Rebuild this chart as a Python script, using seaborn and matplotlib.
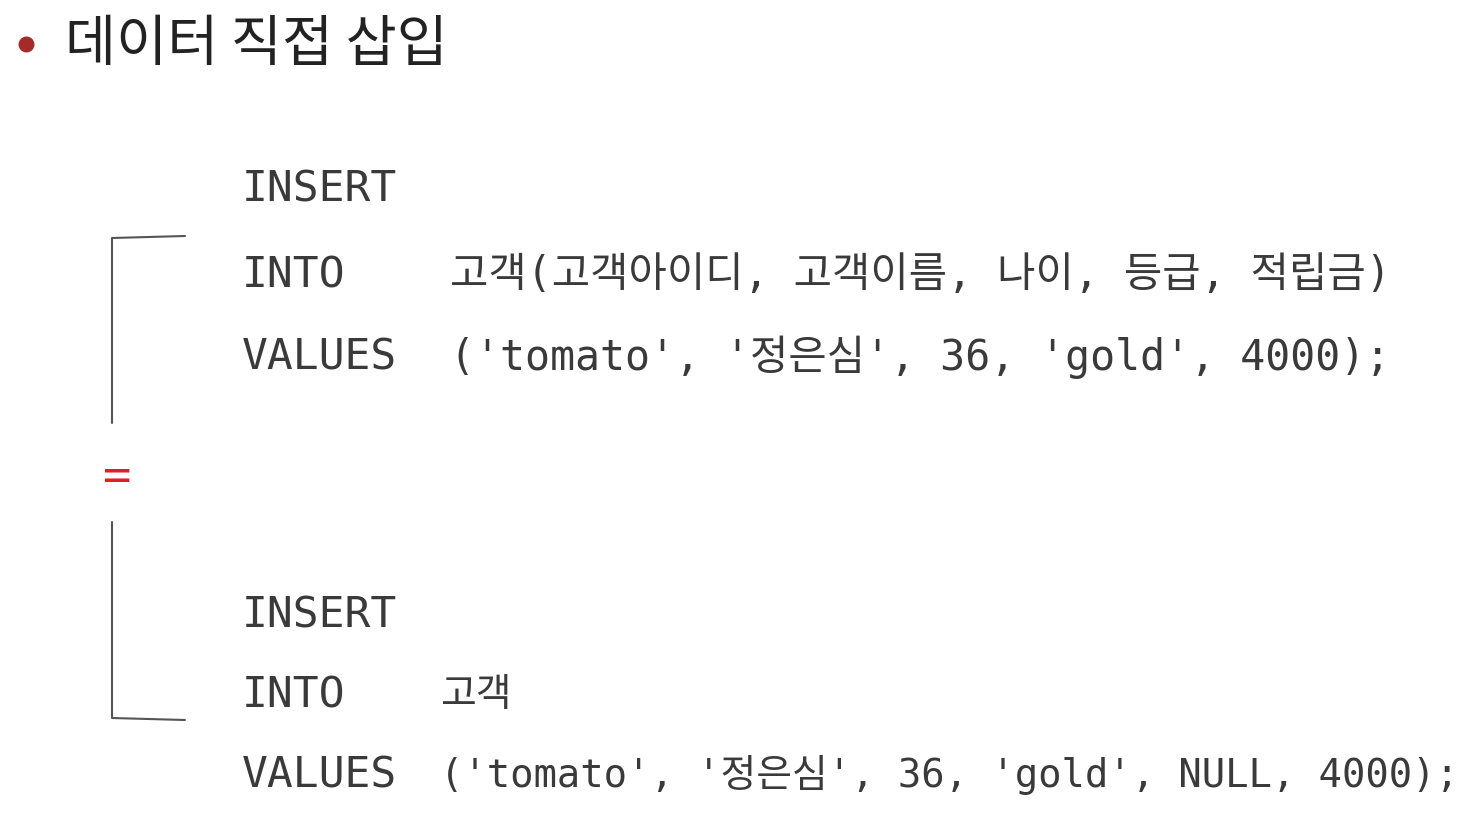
import matplotlib
matplotlib.use("Agg")
import matplotlib.pyplot as plt
import seaborn as sns

sns.set_theme(style="white")
plt.rcParams['font.family'] = ['DejaVu Sans Mono', 'Noto Sans CJK KR']

title = "데이터 직접 삽입"
keywords_top = ["INSERT", "INTO", "VALUES"]
args_top = ["", "고객(고객아이디, 고객이름, 나이, 등급, 적립금)",
            "('tomato', '정은심', 36, 'gold', 4000);"]
keywords_bottom = ["INSERT", "INTO", "VALUES"]
args_bottom = ["", "고객", "('tomato', '정은심', 36, 'gold', NULL, 4000);"]
rows_top = [190, 275, 357]
rows_bottom = [615, 695, 775]

fig = plt.figure(figsize=(14.67, 8.32), dpi=100)
ax = fig.add_axes([0, 0, 1, 1])
ax.set_xlim(0, 1467)
ax.set_ylim(832, 0)
ax.axis("off")

txt = "#3a3a3a"
ax.scatter([26], [44], s=110, color="#a52a2a")
ax.text(65, 45, title, fontsize=40, va="center", color="#222222",
        family=['Noto Sans CJK KR', 'DejaVu Sans'])

for kw, arg, y in zip(keywords_top, args_top, rows_top):
    ax.text(242, y, kw, fontsize=31, va="center", color=txt)
    ax.text(450, y, arg, fontsize=30, va="center", color=txt)
for kw, arg, y in zip(keywords_bottom, args_bottom, rows_bottom):
    ax.text(242, y, kw, fontsize=31, va="center", color=txt)
    ax.text(440, y, arg, fontsize=28, va="center", color=txt)

ax.plot([185, 112, 112], [236, 238, 423], color="#555555", lw=1.5)
ax.plot([112, 112, 185], [522, 718, 720], color="#555555", lw=1.5)
ax.text(117, 478, "=", fontsize=34, ha="center", va="center", color="#e02020")

fig.savefig("out.png", dpi=100)
